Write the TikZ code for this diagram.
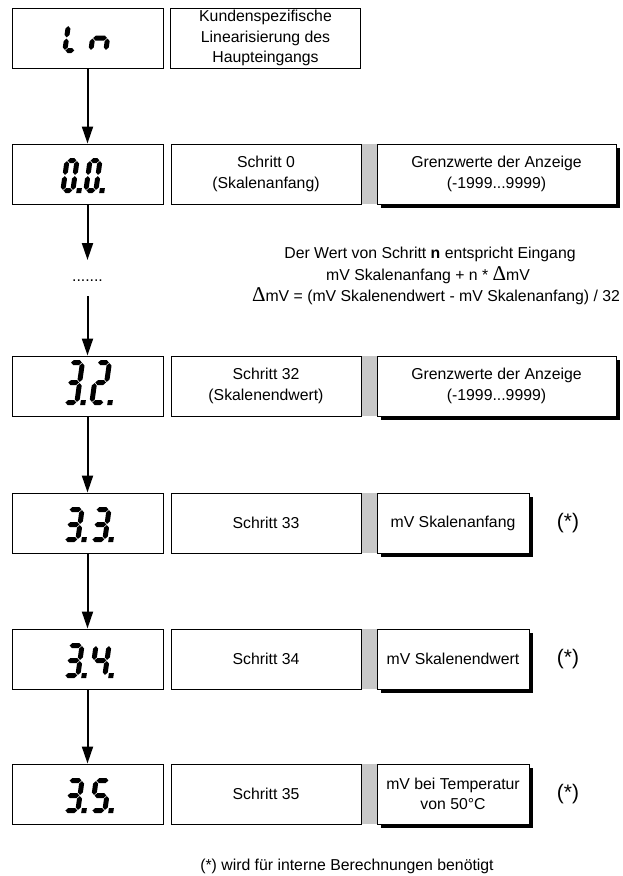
\documentclass[tikz,border=0pt]{standalone}
\usepackage{fontspec}
\setmainfont{Liberation Sans}
\newfontfamily\deltafont{Liberation Serif}
\usetikzlibrary{arrows.meta,shadows}
\definecolor{stripgray}{RGB}{200,200,200}

\newcommand\lcdT{2.5}
\newcommand\lcdG{0.6}
\def\lcdW{15}\def\lcdHt{35}
\newcommand\lcdhs[3]{\fill ({#1},{#3}) -- ({#1+\lcdT},{#3+\lcdT}) -- ({#2-\lcdT},{#3+\lcdT}) -- ({#2},{#3}) -- ({#2-\lcdT},{#3-\lcdT}) -- ({#1+\lcdT},{#3-\lcdT}) -- cycle;}
\newcommand\lcdvs[3]{\fill ({#1},{#2}) -- ({#1+\lcdT},{#2+\lcdT}) -- ({#1+\lcdT},{#3-\lcdT}) -- ({#1},{#3}) -- ({#1-\lcdT},{#3-\lcdT}) -- ({#1-\lcdT},{#2+\lcdT}) -- cycle;}
\newcommand\lcdsega{\lcdhs{\lcdT+\lcdG}{\lcdW-\lcdT-\lcdG}{\lcdHt-\lcdT}}
\newcommand\lcdsegg{\lcdhs{\lcdT+\lcdG}{\lcdW-\lcdT-\lcdG}{\lcdHt/2}}
\newcommand\lcdsegd{\lcdhs{\lcdT+\lcdG}{\lcdW-\lcdT-\lcdG}{\lcdT}}
\newcommand\lcdsegf{\lcdvs{\lcdT}{\lcdHt/2+\lcdG}{\lcdHt-\lcdT-\lcdG}}
\newcommand\lcdsege{\lcdvs{\lcdT}{\lcdT+\lcdG}{\lcdHt/2-\lcdG}}
\newcommand\lcdsegb{\lcdvs{\lcdW-\lcdT}{\lcdHt/2+\lcdG}{\lcdHt-\lcdT-\lcdG}}
\newcommand\lcdsegc{\lcdvs{\lcdW-\lcdT}{\lcdT+\lcdG}{\lcdHt/2-\lcdG}}
% x0, y bottom (px), width, height, segments, dot
\newcommand\lcd[6]{%
  \begin{scope}[shift={(#1,-#2)}, xslant=0.14]
    \def\lcdW{#3}\def\lcdHt{#4}%
    \foreach \s in {#5}{\csname lcdseg\s\endcsname}%
    \ifnum#6=1 \fill ({\lcdW+1.2},0) rectangle ++({2*\lcdT},{2*\lcdT});\fi
  \end{scope}}

\newcommand\bigdelta{{\deltafont\fontsize{21}{21}\selectfont Δ}}

\tikzset{
  disp/.style={draw=black, line width=1pt, minimum width=151pt, minimum height=60pt, inner sep=0pt},
  tbox/.style={draw=black, line width=1pt, minimum width=190pt, minimum height=60pt, inner sep=0pt,
    align=center, font=\fontsize{15.8}{20.5}\selectfont},
  vbox/.style={draw=black, line width=1pt, fill=white, minimum height=60pt, inner sep=0pt,
    align=center, font=\fontsize{15.8}{20.5}\selectfont,
    drop shadow={shadow xshift=4pt, shadow yshift=-4pt, fill=black, opacity=1}},
  txt/.style={inner sep=0pt, font=\fontsize{15.8}{20}\selectfont},
  note/.style={inner sep=0pt, font=\fontsize{21}{24}\selectfont},
  arr/.style={line width=2pt, -{Triangle[length=17pt, width=11pt]}},
  strip/.style={fill=stripgray, draw=none}
}

\begin{document}
\begin{tikzpicture}[x=1pt, y=1pt]
\useasboundingbox (0,0) rectangle (623,-876);

% Row Ln
\node[disp] (d0) at (87.5,-38) {};
\node[tbox] (t0) at (265.5,-38) {Kundenspezifische\\Linearisierung des\\Haupteingangs};
\lcd{62}{53}{15}{30}{f,e,d}{0}
\lcd{88}{53}{20}{30}{e,g,c}{0}

% Row 0.0
\fill[strip] (361,-144) rectangle (377,-204);
\node[disp] (d1) at (87.5,-174) {};
\node[tbox] (s1) at (266,-174) {Schritt 0\\(Skalenanfang)};
\node[vbox, minimum width=239pt] (v1) at (496.5,-174) {Grenzwerte der Anzeige\\(-1999...9999)};
\lcd{60}{193}{15}{35}{a,b,c,d,e,f}{1}
\lcd{83}{193}{15}{35}{a,b,c,d,e,f}{1}

% explanation
\coordinate (c1) at (87.5,-260);
\coordinate (c2) at (87.5,-296);
\node[txt, anchor=base] (dots) at (87.5,-281) {.......};
\node[txt, anchor=base] (e1) at (430,-258.5) {Der Wert von Schritt \textbf{n} entspricht Eingang};
\node[txt, anchor=base] (e2) at (428,-280) {mV Skalenanfang + n * \bigdelta mV};
\node[txt, anchor=base] (e3) at (436,-301.5) {\bigdelta mV = (mV Skalenendwert - mV Skalenanfang) / 32};

% Row 3.2
\fill[strip] (361,-356) rectangle (377,-416);
\node[disp] (d2) at (87.5,-386) {};
\node[tbox] (s2) at (266,-386) {Schritt 32\\(Skalenendwert)};
\node[vbox, minimum width=239pt] (v2) at (496.5,-386) {Grenzwerte der Anzeige\\(-1999...9999)};
\lcd{62}{405}{17}{45}{a,b,g,c,d}{1}
\lcd{89}{405}{17}{45}{a,b,g,e,d}{1}

% Row 3.3
\fill[strip] (361,-493) rectangle (377,-553);
\node[disp] (d3) at (87.5,-523) {};
\node[tbox] (s3) at (266,-523) {Schritt 33};
\node[vbox, minimum width=152pt] (v3) at (453,-523) {mV Skalenanfang};
\node[note] (n3) at (568,-523) {(*)};
\lcd{62}{542}{18}{35}{a,b,g,c,d}{1}
\lcd{89}{542}{18}{35}{a,b,g,c,d}{1}

% Row 3.4
\fill[strip] (361,-629) rectangle (377,-689);
\node[disp] (d4) at (87.5,-659) {};
\node[tbox] (s4) at (266,-659) {Schritt 34};
\node[vbox, minimum width=152pt] (v4) at (453,-659) {mV Skalenendwert};
\node[note] (n4) at (568,-659) {(*)};
\lcd{62}{678}{18}{35}{a,b,g,c,d}{1}
\lcd{89}{678}{18}{35}{f,g,b,c}{1}

% Row 3.5
\fill[strip] (361,-764) rectangle (377,-824);
\node[disp] (d5) at (87.5,-794) {};
\node[tbox] (s5) at (266,-794) {Schritt 35};
\node[vbox, minimum width=152pt] (v5) at (453,-794) {mV bei Temperatur\\von 50°C};
\node[note] (n5) at (568,-794) {(*)};
\lcd{62}{813}{18}{35}{a,b,g,c,d}{1}
\lcd{89}{813}{18}{35}{a,f,g,c,d}{1}

% arrows
\draw[arr] (d0.south) -- (d1.north);
\draw[arr] (d1.south) -- (c1);
\draw[arr] (c2) -- (d2.north);
\draw[arr] (d2.south) -- (d3.north);
\draw[arr] (d3.south) -- (d4.north);
\draw[arr] (d4.south) -- (d5.north);

% footnote
\node[txt, anchor=base] (fn) at (347,-870.5) {(*) wird für interne Berechnungen benötigt};
\end{tikzpicture}
\end{document}
